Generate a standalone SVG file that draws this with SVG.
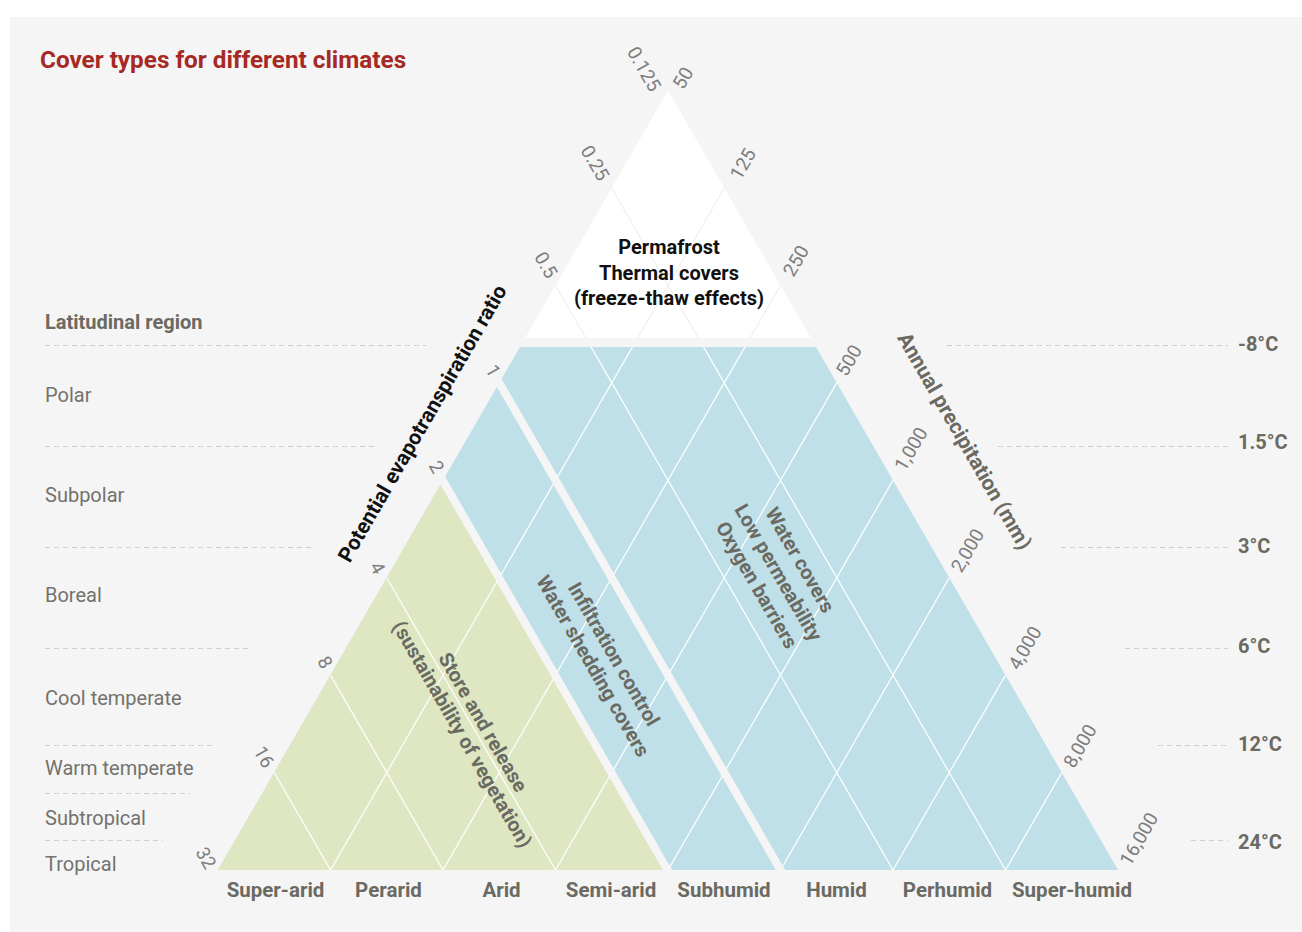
<svg xmlns="http://www.w3.org/2000/svg" width="1302" height="932" viewBox="0 0 1302 932">
<style>
text { font-family: Roboto, 'Liberation Sans', sans-serif; }
.title { font-size: 24.3px; font-weight: 700; fill: #a62924; }
.hdr { font-size: 20px; font-weight: 700; fill: #6b6a62; }
.lat { font-size: 20px; fill: #73726c; }
.tick { font-size: 19px; fill: #7d7d7d; text-anchor: middle; dominant-baseline: central; }
.cat { font-size: 20.5px; font-weight: 700; fill: #6b6a62; text-anchor: middle; }
.temp { font-size: 20px; font-weight: 700; fill: #6b6a62; }
.reg { font-size: 20px; font-weight: 700; fill: #6b6a62; text-anchor: middle; dominant-baseline: central; }
.perm { font-size: 20px; font-weight: 700; fill: #111111; text-anchor: middle; }
.axis { font-size: 21px; font-weight: 700; text-anchor: middle; dominant-baseline: central; }
.dash { stroke: #cfcfcf; stroke-width: 1; stroke-dasharray: 5 4; fill: none; }
.grid { stroke: #ffffff; stroke-width: 1.2; fill: none; }
.gridw { stroke: #ebebeb; stroke-width: 1; fill: none; }
.gap { stroke: #f5f5f5; stroke-width: 8; fill: none; }
</style>
<defs>
  <clipPath id="clipLower">
    <polygon points="519.97,347 816.03,347 1118,870 218,870"/>
  </clipPath>
  <clipPath id="clipTop">
    <polygon points="668,90.6 810.84,338 525.16,338"/>
  </clipPath>
  <g id="gridLines">
    <line x1="330.5" y1="870" x2="274.25" y2="772.57"/>
    <line x1="443" y1="870" x2="330.5" y2="675.14"/>
    <line x1="555.5" y1="870" x2="386.75" y2="577.71"/>
    <line x1="668" y1="870" x2="443" y2="480.28"/>
    <line x1="780.5" y1="870" x2="499.25" y2="382.85"/>
    <line x1="893" y1="870" x2="555.5" y2="285.42"/>
    <line x1="1005.5" y1="870" x2="611.75" y2="187.99"/>
    <line x1="330.5" y1="870" x2="724.25" y2="187.99"/>
    <line x1="443" y1="870" x2="780.5" y2="285.42"/>
    <line x1="555.5" y1="870" x2="836.75" y2="382.85"/>
    <line x1="668" y1="870" x2="893" y2="480.28"/>
    <line x1="780.5" y1="870" x2="949.25" y2="577.71"/>
    <line x1="893" y1="870" x2="1005.5" y2="675.14"/>
    <line x1="1005.5" y1="870" x2="1061.75" y2="772.57"/>
  </g>
</defs>

<rect x="0" y="0" width="1302" height="932" fill="#ffffff"/>
<rect x="10" y="17" width="1292" height="915" fill="#f5f5f5"/>

<text class="title" x="40" y="68">Cover types for different climates</text>

<g id="latitude-guides">
  <line class="dash" x1="45" y1="345.5" x2="426" y2="345.5"/>
  <line class="dash" x1="45" y1="446.5" x2="374" y2="446.5"/>
  <line class="dash" x1="45" y1="547.5" x2="312" y2="547.5"/>
  <line class="dash" x1="45" y1="648.5" x2="248" y2="648.5"/>
  <line class="dash" x1="45" y1="745.5" x2="213" y2="745.5"/>
  <line class="dash" x1="45" y1="793.5" x2="190" y2="793.5"/>
  <line class="dash" x1="45" y1="840.5" x2="163" y2="840.5"/>
  <line class="dash" x1="947" y1="345.5" x2="1228" y2="345.5"/>
  <line class="dash" x1="998" y1="446.5" x2="1228" y2="446.5"/>
  <line class="dash" x1="1061" y1="547.5" x2="1228" y2="547.5"/>
  <line class="dash" x1="1125" y1="648.5" x2="1228" y2="648.5"/>
  <line class="dash" x1="1158" y1="745.5" x2="1228" y2="745.5"/>
  <line class="dash" x1="1191" y1="840.5" x2="1228" y2="840.5"/>
</g>

<g id="latitude-labels">
  <text class="hdr" x="45" y="329">Latitudinal region</text>
  <text class="lat" x="45" y="402">Polar</text>
  <text class="lat" x="45" y="502">Subpolar</text>
  <text class="lat" x="45" y="602">Boreal</text>
  <text class="lat" x="45" y="705">Cool temperate</text>
  <text class="lat" x="45" y="775">Warm temperate</text>
  <text class="lat" x="45" y="825">Subtropical</text>
  <text class="lat" x="45" y="871">Tropical</text>
</g>

<g id="temperature-labels">
  <text class="temp" x="1238" y="351">-8°C</text>
  <text class="temp" x="1238" y="449">1.5°C</text>
  <text class="temp" x="1238" y="553">3°C</text>
  <text class="temp" x="1238" y="653">6°C</text>
  <text class="temp" x="1238" y="751">12°C</text>
  <text class="temp" x="1238" y="849">24°C</text>
</g>

<g id="region-blue">
  <polygon points="519.97,347 816.03,347 1118,870 218,870" fill="#bfe0e9"/>
</g>
<g id="region-green">
  <polygon points="218,870 443,480.28 668,870" fill="#dee7c2"/>
</g>
<g id="region-permafrost">
  <polygon points="668,90.6 810.84,338 525.16,338" fill="#ffffff"/>
</g>

<g id="grid">
  <use href="#gridLines" class="grid" clip-path="url(#clipLower)"/>
  <use href="#gridLines" class="gridw" clip-path="url(#clipTop)"/>
</g>

<g id="separators">
  <line class="gap" x1="671" y1="876" x2="437" y2="470.5"/>
  <line class="gap" x1="784" y1="876" x2="493.5" y2="373"/>
</g>

<g id="permafrost-text">
  <text class="perm" x="669" y="254">Permafrost</text>
  <text class="perm" x="669" y="280">Thermal covers</text>
  <text class="perm" x="669" y="305">(freeze-thaw effects)</text>
</g>

<g id="store-release" transform="translate(472.75,728.25) rotate(60)">
  <text class="reg" x="0" y="-12">Store and release</text>
  <text class="reg" x="0" y="12">(sustainability of vegetation)</text>
</g>

<g id="infiltration" transform="translate(603.5,660) rotate(60)">
  <text class="reg" x="0" y="-12">Infiltration control</text>
  <text class="reg" x="0" y="12">Water shedding covers</text>
</g>

<g id="water-covers" transform="translate(778.5,572.5) rotate(60)">
  <text class="reg" x="0" y="-25">Water covers</text>
  <text class="reg" x="0" y="0">Low permeability</text>
  <text class="reg" x="0" y="25">Oxygen barriers</text>
</g>

<g id="pet-axis">
  <text class="axis" fill="#111111" transform="translate(422.5,423.5) rotate(-60)">Potential evapotranspiration ratio</text>
  <text class="tick" transform="translate(644,69) rotate(60)">0.125</text>
  <text class="tick" transform="translate(595,163) rotate(60)">0.25</text>
  <text class="tick" transform="translate(546,265) rotate(60)">0.5</text>
  <text class="tick" transform="translate(493,371) rotate(60)">1</text>
  <text class="tick" transform="translate(436.5,467) rotate(60)">2</text>
  <text class="tick" transform="translate(377.5,568) rotate(60)">4</text>
  <text class="tick" transform="translate(325,662.5) rotate(60)">8</text>
  <text class="tick" transform="translate(264,757) rotate(60)">16</text>
  <text class="tick" transform="translate(206,858) rotate(60)">32</text>
</g>

<g id="precip-axis">
  <text class="axis" fill="#6b6a62" transform="translate(964.5,441) rotate(60)">Annual precipitation (mm)</text>
  <text class="tick" transform="translate(683,78) rotate(-60)">50</text>
  <text class="tick" transform="translate(743,164) rotate(-60)">125</text>
  <text class="tick" transform="translate(796,261) rotate(-60)">250</text>
  <text class="tick" transform="translate(849,360.5) rotate(-60)">500</text>
  <text class="tick" transform="translate(911,449) rotate(-60)">1,000</text>
  <text class="tick" transform="translate(967.5,550.5) rotate(-60)">2,000</text>
  <text class="tick" transform="translate(1025,648) rotate(-60)">4,000</text>
  <text class="tick" transform="translate(1080,746) rotate(-60)">8,000</text>
  <text class="tick" transform="translate(1139,839) rotate(-60)">16,000</text>
</g>

<g id="aridity-labels">
  <text class="cat" x="275.5" y="897">Super-arid</text>
  <text class="cat" x="388.5" y="897">Perarid</text>
  <text class="cat" x="501.5" y="897">Arid</text>
  <text class="cat" x="611" y="897">Semi-arid</text>
  <text class="cat" x="724" y="897">Subhumid</text>
  <text class="cat" x="836.5" y="897">Humid</text>
  <text class="cat" x="947.5" y="897">Perhumid</text>
  <text class="cat" x="1072" y="897">Super-humid</text>
</g>
</svg>
